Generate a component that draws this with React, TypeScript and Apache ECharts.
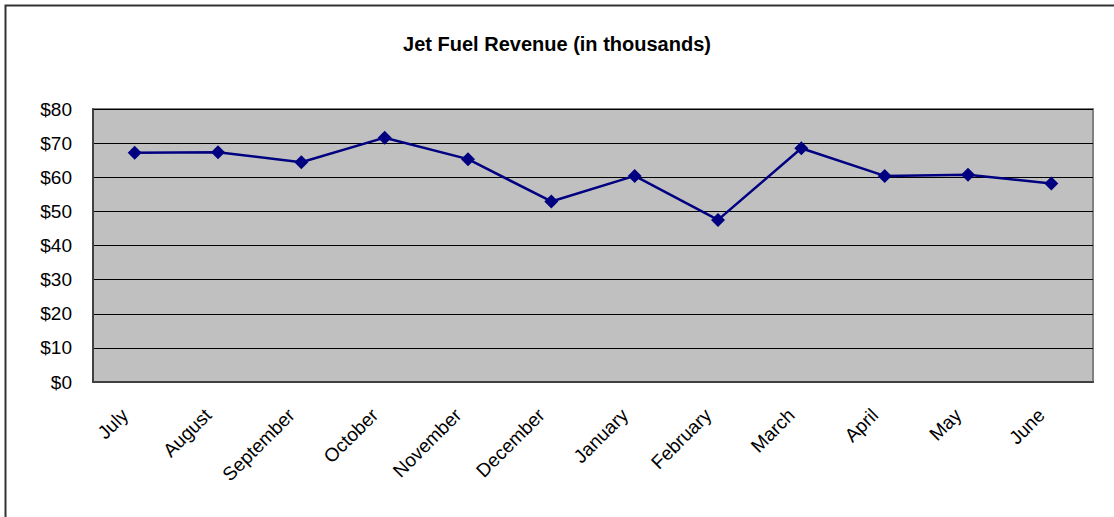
import React, { useEffect, useRef } from "react";
import * as echarts from "echarts";

const months = ["July", "August", "September", "October", "November", "December", "January", "February", "March", "April", "May", "June"];
const revenue = [67.2, 67.3, 64.4, 71.6, 65.3, 52.9, 60.4, 47.5, 68.5, 60.4, 60.7, 58.2];
const yTicks = [0, 10, 20, 30, 40, 50, 60, 70, 80];

export default function App() {
  const ref = useRef<HTMLDivElement>(null);
  useEffect(() => {
    if (!ref.current) return;
    const chart = echarts.init(ref.current, null, { renderer: "svg" });
    const font = "'Liberation Sans', Arial, sans-serif";
    chart.setOption({
      animation: false,
      backgroundColor: "#ffffff",
      title: {
        text: "Jet Fuel Revenue (in thousands)",
        left: "center",
        top: 29,
        textStyle: { fontFamily: font, fontSize: 20, fontWeight: "bold", color: "#000" },
      },
      graphic: [
        {
          type: "rect",
          shape: { x: 5.5, y: 5.5, width: 1200, height: 600 },
          style: { fill: "none", stroke: "#333", lineWidth: 2 },
          z: 100,
        },
        {
          type: "rect",
          shape: { x: 93, y: 109, width: 1000, height: 273 },
          style: { fill: "none", stroke: "#808080", lineWidth: 2 },
          z: 0,
        },
      ],
      grid: {
        left: 93,
        top: 109,
        width: 1000,
        height: 273,
        show: true,
        backgroundColor: "#c0c0c0",
        borderWidth: 0,
      },
      xAxis: {
        type: "category",
        data: months,
        boundaryGap: true,
        axisLine: { show: true, lineStyle: { color: "#404040", width: 2 } },
        axisTick: { show: false },
        axisLabel: {
          interval: 0,
          rotate: 45,
          margin: 20,
          padding: [0, 14, 0, 0],
          fontFamily: font,
          fontSize: 19,
          color: "#000",
        },
        splitLine: { show: false },
      },
      yAxis: {
        type: "value",
        min: yTicks[0],
        max: yTicks[yTicks.length - 1],
        interval: 10,
        axisLine: { show: true, lineStyle: { color: "#404040", width: 2 } },
        axisTick: { show: false },
        axisLabel: {
          margin: 21,
          fontFamily: font,
          fontSize: 19,
          color: "#000",
          formatter: (v: number) => "$" + v,
        },
        splitLine: { show: true, lineStyle: { color: "#000", width: 1 } },
      },
      series: [
        {
          type: "line",
          data: revenue,
          symbol: "diamond",
          symbolSize: 14,
          lineStyle: { color: "#000080", width: 2.5 },
          itemStyle: { color: "#000080" },
          z: 5,
        },
      ],
    });
    return () => chart.dispose();
  }, []);
  return (
    <div
      ref={ref}
      style={{ position: "absolute", left: 0, top: 0, width: 1114, height: 517 }}
    />
  );
}
